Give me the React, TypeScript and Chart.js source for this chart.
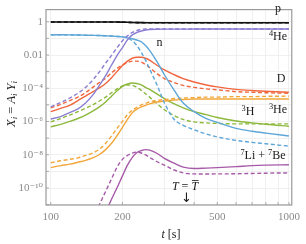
import React, { useEffect, useRef } from "react";
import { Chart, registerables } from "chart.js";
Chart.register(...registerables);

const SERIF = "'Liberation Serif','DejaVu Serif',serif";

const times = [100,110,120,130,140,150,160,170,180,190,200,210,220,230,240,250,260,280,300,330,360,400,450,500,600,700,800,1000];
const liTimes = [150,160,170,180,190,200,210,220,230,240,250,260,280,300,330,360,400,450,500,600,700,800,1000];

const pSolid = [0.97,0.97,0.97,0.97,0.97,0.97,0.97,0.97,0.97,0.96,0.95,0.93,0.91,0.895,0.885,0.878,0.874,0.87,0.87,0.87,0.87,0.87,0.87,0.87,0.87,0.87,0.87,0.87];
const pDashed = [0.97,0.97,0.97,0.97,0.97,0.97,0.97,0.97,0.97,0.96,0.95,0.93,0.91,0.895,0.885,0.878,0.874,0.87,0.87,0.87,0.87,0.87,0.87,0.87,0.87,0.87,0.87,0.87];
const nSolid = [0.167,0.165,0.163,0.16,0.156,0.152,0.148,0.143,0.138,0.131,0.124,0.108,0.095,0.08,0.063,0.037,0.019,0.0037,6.5e-4,7.5e-5,1.3e-5,3.9e-6,1.5e-6,8.9e-7,3.9e-7,2.6e-7,2.0e-7,1.35e-7];
const nDashed = [0.167,0.165,0.163,0.16,0.156,0.152,0.148,0.143,0.138,0.131,0.124,0.105,0.0724,0.0369,0.0144,0.0049,0.00146,1.48e-4,1.31e-5,1.33e-6,5.9e-7,3.2e-7,1.76e-7,1.18e-7,7.3e-8,5.6e-8,4.6e-8,3.3e-8];
const he4Solid = [1.42e-6,1.99e-6,3.4e-6,5.8e-6,1.31e-5,3.85e-5,1.48e-4,5.7e-4,0.0025,0.0096,0.0282,0.0828,0.163,0.227,0.278,0.318,0.34,0.355,0.36,0.362,0.363,0.364,0.364,0.364,0.364,0.364,0.364,0.364];
const he4Dashed = [7.6e-6,1.4e-5,2.57e-5,5.0e-5,1.13e-4,3.1e-4,9.7e-4,0.00327,0.0096,0.0282,0.0724,0.142,0.227,0.3,0.35,0.37,0.372,0.37,0.368,0.366,0.365,0.364,0.364,0.364,0.364,0.364,0.364,0.364];
const dSolid = [3.9e-6,6.2e-6,9.35e-6,1.83e-5,3.36e-5,6.15e-5,1.05e-4,1.94e-4,4.3e-4,0.00104,0.00234,0.00428,0.0064,0.0073,0.0073,0.0064,0.0049,0.00234,0.00127,6.5e-4,3.8e-4,2.37e-4,1.58e-4,1.21e-4,8.6e-5,7.3e-5,6.6e-5,5.75e-5];
const dDashed = [6.7e-6,1.07e-5,1.83e-5,2.94e-5,5.4e-5,1.13e-4,2.21e-4,4.06e-4,8.5e-4,0.00156,0.0025,0.0035,0.00428,0.00428,0.00374,0.00267,0.00178,7.4e-4,3.8e-4,2.21e-4,1.48e-4,1.13e-4,9.2e-5,8.1e-5,6.3e-5,5.75e-5,5.4e-5,5.0e-5];
const h3Solid = [4.8e-7,6.8e-7,1.01e-6,1.52e-6,2.43e-6,4.2e-6,7.6e-6,1.5e-5,3.36e-5,7.05e-5,1.29e-4,1.81e-4,2.07e-4,1.94e-4,1.58e-4,1.13e-4,8.6e-5,4.4e-5,2.4e-5,1.14e-5,6.7e-6,3.9e-6,2.6e-6,1.74e-6,1.08e-6,8.3e-7,6.8e-7,5.2e-7];
const h3Dashed = [9.5e-7,1.52e-6,2.43e-6,3.9e-6,6.2e-6,1.0e-5,1.71e-5,2.94e-5,5.4e-5,9.2e-5,1.38e-4,1.58e-4,1.48e-4,1.13e-4,7.5e-5,4.7e-5,2.94e-5,1.14e-5,5.1e-6,2.28e-6,1.33e-6,9.5e-7,8.3e-7,7.7e-7,7.2e-7,7.2e-7,7.2e-7,7.2e-7];
const he3Solid = [1.69e-9,2.21e-9,2.71e-9,3.55e-9,4.64e-9,6.5e-9,1.04e-8,2.04e-8,4.9e-8,1.44e-7,4.5e-7,1.33e-6,3.4e-6,5.5e-6,7.6e-6,9.35e-6,1.14e-5,1.5e-5,1.71e-5,1.96e-5,2.1e-5,2.24e-5,2.24e-5,2.24e-5,2.24e-5,2.24e-5,2.24e-5,2.24e-5];
const he3Dashed = [3.31e-9,4.34e-9,5.3e-9,6.5e-9,9.1e-9,1.27e-8,2.18e-8,4.9e-8,1.35e-7,3.95e-7,1.01e-6,2.6e-6,4.8e-6,7.1e-6,1.0e-5,1.22e-5,1.5e-5,1.83e-5,2.1e-5,2.4e-5,2.57e-5,2.75e-5,2.94e-5,2.94e-5,3.14e-5,3.14e-5,3.27e-5,3.36e-5];
const liSolid = [1e-13,6e-13,3.7e-12,2.12e-11,1.07e-10,5.4e-10,2.37e-9,6.95e-9,1.36e-8,1.78e-8,2.04e-8,1.91e-8,1.19e-8,6.1e-9,3.1e-9,1.81e-9,1.48e-9,1.58e-9,1.69e-9,1.94e-9,2.21e-9,2.37e-9,2.53e-9];
const liDashed = [1.44e-12,1.01e-11,6.2e-11,3.6e-10,1.81e-9,5.3e-9,9.1e-9,1.27e-8,1.46e-8,1.27e-8,9.7e-9,6.95e-9,3.8e-9,2.37e-9,1.21e-9,8.1e-10,7.05e-10,7.0e-10,7.05e-10,7.2e-10,7.5e-10,7.8e-10,8.1e-10];

const xGridTicks = [100,200,300,400,500,600,700,800,900,1000];
const xTickLabels: Record<number, string> = { 100: "100", 200: "200", 500: "500", 1000: "1000" };
const yGridTicks = [1e-11,1e-10,1e-9,1e-8,1e-7,1e-6,1e-5,1e-4,1e-3,1e-2,1e-1,1];
const yTickLabels: Record<number, string> = { 0: "1", [-2]: "0.01", [-4]: "10⁻⁴", [-6]: "10⁻⁶", [-8]: "10⁻⁸", [-10]: "10⁻¹⁰" };

const COLORS = {
  p: "#111111",
  n: "#5ea6d8",
  he4: "#8a7fd2",
  d: "#f0663e",
  h3: "#8cb83c",
  he3: "#f2a63a",
  li: "#a65aa8",
};

type Part = { t: string; s?: number; dy?: number; it?: boolean; fam?: string };

function rich(ctx: CanvasRenderingContext2D, parts: Part[], x: number, y: number, base = 12) {
  const fonts = parts.map((p) => `${p.it ? "italic " : ""}${(p.s ?? 1) * base}px ${p.fam ?? SERIF}`);
  let w = 0;
  const widths: number[] = [];
  parts.forEach((p, i) => {
    ctx.font = fonts[i];
    const m = ctx.measureText(p.t).width;
    widths.push(m);
    w += m;
  });
  let cx = x - w / 2;
  const starts: number[] = [];
  ctx.textAlign = "left";
  ctx.textBaseline = "alphabetic";
  parts.forEach((p, i) => {
    ctx.font = fonts[i];
    starts.push(cx);
    ctx.fillText(p.t, cx, y + (p.dy ?? 0));
    cx += widths[i];
  });
  return { starts, widths };
}

const sup = (t: string): Part => ({ t, s: 0.7, dy: -4.5 });
const sub = (t: string): Part => ({ t, s: 0.7, dy: 2.5, it: true });

const decorPlugin = {
  id: "decor",
  afterDatasetsDraw(chart: any) {
    const ctx: CanvasRenderingContext2D = chart.ctx;
    const { left, right, top, bottom } = chart.chartArea;
    const xs = chart.scales.x;
    const ys = chart.scales.y;
    ctx.save();
    ctx.strokeStyle = "#9a9a9a";
    ctx.lineWidth = 1.2;
    ctx.strokeRect(left, top, right - left, bottom - top);
    ctx.lineWidth = 0.8;
    xGridTicks.forEach((v) => {
      const px = xs.getPixelForValue(v);
      ctx.beginPath();
      ctx.moveTo(px, bottom);
      ctx.lineTo(px, bottom - 3);
      ctx.stroke();
    });
    yGridTicks.forEach((v) => {
      const py = ys.getPixelForValue(v);
      ctx.beginPath();
      ctx.moveTo(left, py);
      ctx.lineTo(left + 3, py);
      ctx.stroke();
    });

    ctx.fillStyle = "#1a1a1a";
    rich(ctx, [{ t: "p" }], 278, 12);
    rich(ctx, [sup("4"), { t: "He" }], 278, 40);
    rich(ctx, [{ t: "n" }], 159.5, 46);
    rich(ctx, [{ t: "D" }], 281, 82);
    rich(ctx, [sup("3"), { t: "H" }], 248, 115);
    rich(ctx, [sup("3"), { t: "He" }], 278, 113);
    rich(ctx, [sup("7"), { t: "Li + " }, sup("7"), { t: "Be" }], 263, 159);
    const tt = rich(ctx, [{ t: "T", it: true }, { t: " = " }, { t: "T", it: true }], 185, 190);
    ctx.strokeStyle = "#1a1a1a";
    ctx.lineWidth = 0.8;
    ctx.beginPath();
    ctx.moveTo(tt.starts[2] + 0.5, 180.5);
    ctx.lineTo(tt.starts[2] + tt.widths[2] + 0.5, 180.5);
    ctx.stroke();
    rich(ctx, [{ t: "↓", fam: "'DejaVu Sans', sans-serif" }], 186.5, 202, 13);

    rich(ctx, [{ t: "t", it: true }, { t: " [s]" }], 171, 238);
    ctx.save();
    ctx.translate(14.5, 104);
    ctx.rotate(-Math.PI / 2);
    rich(ctx, [{ t: "X", it: true }, sub("i"), { t: " = " }, { t: "A", it: true }, sub("i"), { t: " " }, { t: "Y", it: true }, sub("i")], 0, 0, 12.5);
    ctx.restore();
    ctx.restore();
  },
};

function mk(label: string, xs: number[], ys: number[], color: string, dashed: boolean, width = 1.4) {
  return {
    label,
    data: xs.map((x, i) => ({ x, y: ys[i] })),
    borderColor: color,
    backgroundColor: color,
    borderWidth: width,
    borderDash: dashed ? [4, 2.5] : [],
    pointRadius: 0,
    fill: false,
    cubicInterpolationMode: "monotone" as const,
  };
}

export default function App() {
  const ref = useRef<HTMLCanvasElement>(null);
  useEffect(() => {
    const tickFont = { family: SERIF, size: 11 };
    const chart = new Chart(ref.current!, {
      type: "line",
      data: {
        datasets: [
          mk("p", times, pSolid, COLORS.p, false, 1.6),
          mk("p dashed", times, pDashed, COLORS.p, true, 1.6),
          mk("4He", times, he4Solid, COLORS.he4, false),
          mk("4He dashed", times, he4Dashed, COLORS.he4, true),
          mk("n", times, nSolid, COLORS.n, false),
          mk("n dashed", times, nDashed, COLORS.n, true),
          mk("D", times, dSolid, COLORS.d, false),
          mk("D dashed", times, dDashed, COLORS.d, true),
          mk("3He", times, he3Solid, COLORS.he3, false),
          mk("3He dashed", times, he3Dashed, COLORS.he3, true),
          mk("3H", times, h3Solid, COLORS.h3, false),
          mk("3H dashed", times, h3Dashed, COLORS.h3, true),
          mk("7Li+7Be", liTimes, liSolid, COLORS.li, false),
          mk("7Li+7Be dashed", liTimes, liDashed, COLORS.li, true),
        ] as any,
      },
      options: {
        animation: false,
        responsive: false,
        devicePixelRatio: 1,
        layout: { padding: { top: 4, right: 8, left: 0, bottom: 0 } },
        plugins: { legend: { display: false }, tooltip: { enabled: false }, title: { display: false } },
        scales: {
          x: {
            type: "logarithmic",
            bounds: "data",
            min: 95.5,
            max: 1028,
            afterBuildTicks: (s: any) => {
              s.ticks = xGridTicks.map((v) => ({ value: v }));
            },
            afterFit: (s: any) => {
              s.height = 39;
            },
            ticks: {
              autoSkip: false,
              maxRotation: 0,
              font: tickFont,
              color: "#8a8a8a",
              padding: 6,
              callback: (v: any) => xTickLabels[Math.round(Number(v))] ?? "",
            },
            grid: { color: "#ececec", lineWidth: 0.8, drawTicks: false },
            border: { display: false },
          },
          y: {
            type: "logarithmic",
            bounds: "data",
            min: 9.5e-12,
            max: 5.4,
            afterBuildTicks: (s: any) => {
              s.ticks = yGridTicks.map((v) => ({ value: v }));
            },
            afterFit: (s: any) => {
              s.width = 46;
            },
            ticks: {
              autoSkip: false,
              font: tickFont,
              color: "#8a8a8a",
              padding: 3,
              callback: (v: any) => yTickLabels[Math.round(Math.log10(Number(v)))] ?? "",
            },
            grid: { color: "#ececec", lineWidth: 0.8, drawTicks: false },
            border: { display: false },
          },
        },
      } as any,
      plugins: [decorPlugin],
    });
    return () => chart.destroy();
  }, []);
  return (
    <div style={{ position: "fixed", left: 0, top: 0, width: 306, height: 244, background: "#fff" }}>
      <canvas ref={ref} width={306} height={244} style={{ display: "block", width: 306, height: 244 }} />
    </div>
  );
}
